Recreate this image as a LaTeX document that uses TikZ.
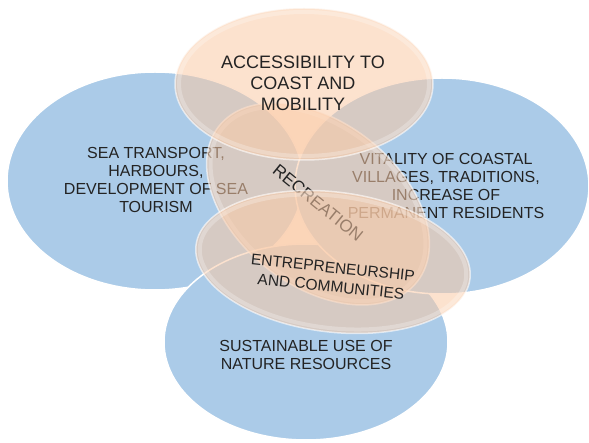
\documentclass[tikz,border=0pt]{standalone}
\usepackage{fontspec}
\setmainfont{Liberation Sans}
\usepackage{tikz}
\usepackage{xcolor}
\usetikzlibrary{calc}

\definecolor{seablue}{RGB}{171,203,232}
\definecolor{peach}{RGB}{250,202,166}
\definecolor{inkgray}{RGB}{35,35,35}

\begin{document}
\begin{tikzpicture}[line cap=round,line join=round,x=1pt,y=-1pt,
    blueoval/.style={fill=seablue,draw=white,line width=1.5pt},
    peachoval/.style={fill=peach,fill opacity=0.55,draw=white,draw opacity=0.6,line width=1.5pt},
    glint/.style={draw=white,draw opacity=0.25,line width=4pt},
    lbl/.style={text=inkgray,align=center,inner sep=0pt,font=\fontsize{16}{18.3}\selectfont}]
    \useasboundingbox (0,0) rectangle (589,443);
    % blue areas
    \draw [blueoval] (155,181) ellipse [x radius=148, y radius=109];
    \draw [blueoval] (306,342) ellipse [x radius=142, y radius=98];
    \draw [blueoval] (442,186) ellipse [x radius=147, y radius=108];
    \node [lbl] (transport) at (156,180) {SEA TRANSPORT,\\HARBOURS,\\DEVELOPMENT OF SEA\\TOURISM};
    \node [lbl] (vitality) at (446,186) {VITALITY OF COASTAL\\VILLAGES, TRADITIONS,\\INCREASE OF\\PERMANENT RESIDENTS};
    \node [lbl, font=\fontsize{16}{17.3}\selectfont] (nature) at (306,355) {SUSTAINABLE USE OF\\NATURE RESOURCES};
    % peach areas
    \draw [peachoval, shift={(318,204)}, rotate=-38] (0,0) ellipse [x radius=126, y radius=82];
    \draw [glint, shift={(318,204)}, rotate=-38] (0,0) ellipse [x radius=122, y radius=78];
    \node [lbl, rotate=-39, font=\fontsize{17}{20}\selectfont] (recreation) at (318,203) {RECREATION};
    \draw [peachoval] (304,84) ellipse [x radius=129, y radius=76];
    \draw [glint] (304,84) ellipse [x radius=125, y radius=72];
    \node [lbl, font=\fontsize{18}{21}\selectfont] (access) at (303,83.5) {ACCESSIBILITY TO\\COAST AND\\MOBILITY};
    \draw [peachoval, shift={(333,262)}, rotate=-7] (0,0) ellipse [x radius=138, y radius=70];
    \draw [glint, shift={(333,262)}, rotate=-7] (0,0) ellipse [x radius=134, y radius=66];
    \node [lbl, rotate=-6, font=\fontsize{15.5}{19}\selectfont] (business) at (332,277) {ENTREPRENEURSHIP\\AND COMMUNITIES};
\end{tikzpicture}
\end{document}
